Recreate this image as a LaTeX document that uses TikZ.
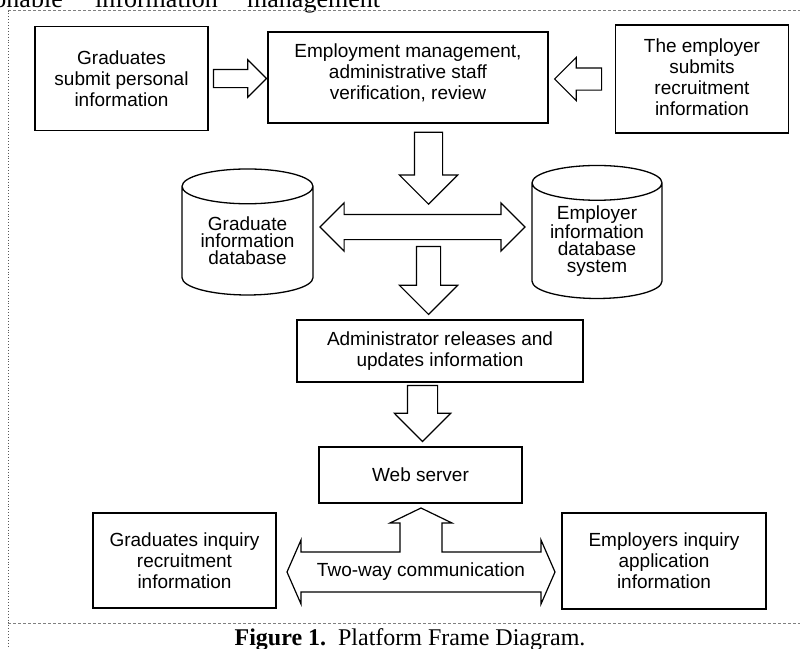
\documentclass[tikz,border=0pt]{standalone}
\usepackage{fontspec}
\setmainfont{Liberation Sans}
\newfontfamily\capserif{Liberation Serif}
\usetikzlibrary{shapes.geometric,shapes.arrows,calc}
\newcommand{\boxfont}{\fontsize{19}{21}\selectfont}
\newcommand{\dbfont}{\fontsize{19}{17}\selectfont}

\tikzset{
  box/.style={draw, line width=1.5, align=center, inner sep=0, font=\boxfont},
  db/.style={cylinder, shape border rotate=90, draw, line width=1.3, aspect=0.37,
    align=center, inner sep=0, font=\dbfont},
  % fat arrows: length, half shaft, head extend
  fat/.style n args={3}{single arrow, draw, line width=1.2, sloped, allow upside down,
    inner xsep=0, inner ysep=#2, minimum height=#1, single arrow head extend=#3},
  dbl/.style n args={3}{double arrow, draw, line width=1.2, sloped, allow upside down,
    inner xsep=0, inner ysep=#2, minimum height=#1, double arrow head extend=#3},
  frame/.style={gray, line width=0.8, dash pattern=on 3pt off 2pt}
}

\begin{document}
\begin{tikzpicture}[x=1pt, y=-1pt]
  \useasboundingbox (0,0) rectangle (800,648);

  % running text above the figure
  \begin{scope}[font=\capserif\fontsize{26}{30}\selectfont, inner sep=0]
    \node[anchor=base east] (w1) at (63,7) {onable};
    \node[anchor=base west] (w2) at (95,7) {information};
    \node[anchor=base west] (w3) at (247,7) {management};
  \end{scope}

  % frame
  \draw[frame] (8,10.5) -- (800,10.5);
  \draw[frame] (8,623) -- (800,623);
  \draw[gray!70!black, line width=0.9, dotted] (8,10.5) -- (8,648);

  % boxes
  \node[box, minimum width=173, minimum height=104] (grad) at (121.5,78.5)
    {Graduates\\submit personal\\information};
  \node[box, minimum width=280, minimum height=91, text depth=11] (mgmt) at (408,77.5)
    {Employment management,\\administrative staff\\verification, review};
  \node[box, minimum width=173, minimum height=108, text depth=4] (empl) at (702,79)
    {The employer\\submits\\recruitment\\information};

  \node[db, minimum width=131, minimum height=126] (gdb) at (247.5,241)
    {Graduate\\information\\database};
  \node[db, minimum width=130, minimum height=133] (edb) at (597,241)
    {Employer\\information\\database\\system};
  \coordinate (hub) at (422.5,227);

  \node[box, minimum width=286, minimum height=62] (admin) at (440,351)
    {Administrator releases and\\updates information};
  \node[box, minimum width=203, minimum height=56] (web) at (420.5,475) {Web server};

  \node[box, minimum width=183, minimum height=95] (ginq) at (184.5,560.5)
    {Graduates inquiry\\recruitment\\information};
  \node[box, minimum width=204, minimum height=96] (einq) at (664,561)
    {Employers inquiry\\application\\information};

  % arrows between the blocks
  \path (grad.east) -- (grad.east -| mgmt.west)
    node[fat={53}{8.5}{9.5}, pos=1, anchor=tip] {};
  \path (empl.west) -- ($(empl.west -| mgmt.east)+(5,0)$)
    node[fat={47}{10.5}{10.5}, pos=1, anchor=tip] {};
  \path ($(mgmt.south -| hub)+(6,0)$) -- ($(hub)+(6,-22)$)
    node[fat={72}{13.5}{15}, pos=1, anchor=tip] {};
  \path (gdb.east |- hub) -- (edb.west |- hub)
    node[dbl={205}{12}{11.5}, midway] {};
  \path ($(hub)+(6,21)$) -- ($(admin.north -| hub)+(6,-4)$)
    node[fat={68}{11.5}{17}, pos=1, anchor=tip] {};
  \path (admin.south -| hub) -- ($(web.north -| hub)+(0,-4)$)
    node[fat={56}{14.5}{13}, pos=1, anchor=tip] {};

  % two-way arrow with the branch up to the server
  \node[font=\boxfont, inner sep=0] (twoway) at (421,572) {Two-way communication};
  \begin{scope}[shift={(twoway.center)}]
    \draw[line width=1.2, line join=miter]
      (-134,0) -- (-120,-32) -- (-120,-20) -- (-21,-20) -- (-21,-49) -- (-31,-49)
      -- (0,-64) -- (31,-49) -- (21,-49) -- (21,-20) -- (120,-20) -- (120,-32)
      -- (134,0) -- (120,32) -- (120,20) -- (-120,20) -- (-120,32) -- cycle;
  \end{scope}

  % caption
  \node[font=\capserif\fontsize{24}{27}\selectfont, anchor=base, inner sep=0] (cap)
    at (410,645) {\textbf{Figure 1.}\ \ Platform Frame Diagram.};
\end{tikzpicture}
\end{document}
